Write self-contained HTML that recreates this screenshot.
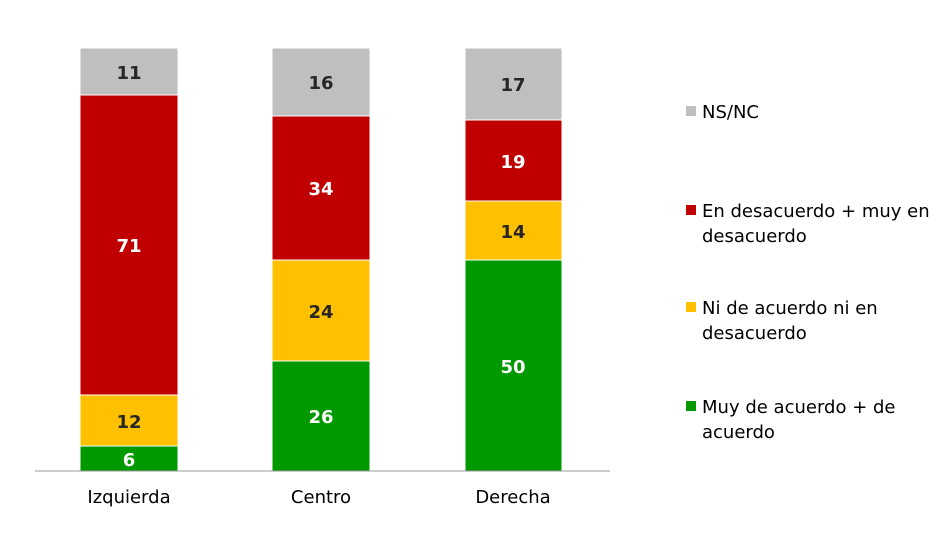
<!DOCTYPE html>
<html><head><meta charset="utf-8"><style>
body{margin:0;background:#fff;}
svg text{font-family:"DejaVu Sans","Liberation Sans",sans-serif;}
</style></head><body>
<svg width="942" height="528" xmlns="http://www.w3.org/2000/svg">
<rect width="942" height="528" fill="#fff"/>
<g stroke="#fff" stroke-width="1">
<rect x="80" y="48" width="98" height="47" fill="#BFBFBF"/>
<rect x="80" y="95" width="98" height="300" fill="#C00000"/>
<rect x="80" y="395" width="98" height="51" fill="#FFC000"/>
<rect x="80" y="446" width="98" height="25" fill="#009900"/>
<rect x="272" y="48" width="98" height="68" fill="#BFBFBF"/>
<rect x="272" y="116" width="98" height="144" fill="#C00000"/>
<rect x="272" y="260" width="98" height="101" fill="#FFC000"/>
<rect x="272" y="361" width="98" height="110" fill="#009900"/>
<rect x="465" y="48" width="97" height="72" fill="#BFBFBF"/>
<rect x="465" y="120" width="97" height="81" fill="#C00000"/>
<rect x="465" y="201" width="97" height="59" fill="#FFC000"/>
<rect x="465" y="260" width="97" height="211" fill="#009900"/>
</g>
<line x1="35" y1="471" x2="610" y2="471" stroke="#999" stroke-width="1"/>
<g font-size="18" font-weight="bold" text-anchor="middle">
<text x="129" y="79" fill="#262626">11</text>
<text x="129" y="252" fill="#fff">71</text>
<text x="129" y="428" fill="#262626">12</text>
<text x="129" y="466" fill="#fff">6</text>
<text x="321" y="89" fill="#262626">16</text>
<text x="321" y="195" fill="#fff">34</text>
<text x="321" y="318" fill="#262626">24</text>
<text x="321" y="423" fill="#fff">26</text>
<text x="513" y="91" fill="#262626">17</text>
<text x="513" y="168" fill="#fff">19</text>
<text x="513" y="238" fill="#262626">14</text>
<text x="513" y="373" fill="#fff">50</text>
</g>
<g font-size="18" fill="#000" text-anchor="middle">
<text x="129" y="503">Izquierda</text>
<text x="321" y="503">Centro</text>
<text x="513" y="503">Derecha</text>
</g>
<g font-size="18" fill="#000">
<rect x="686" y="106" width="10" height="10" fill="#BFBFBF"/>
<text x="702" y="118">NS/NC</text>
<rect x="686" y="205" width="10" height="10" fill="#C00000"/>
<text x="702" y="217">En desacuerdo + muy en</text>
<text x="702" y="242">desacuerdo</text>
<rect x="686" y="302" width="10" height="10" fill="#FFC000"/>
<text x="702" y="314">Ni de acuerdo ni en</text>
<text x="702" y="339">desacuerdo</text>
<rect x="686" y="401" width="10" height="10" fill="#009900"/>
<text x="702" y="413">Muy de acuerdo + de</text>
<text x="702" y="438">acuerdo</text>
</g>
</svg>
</body></html>
